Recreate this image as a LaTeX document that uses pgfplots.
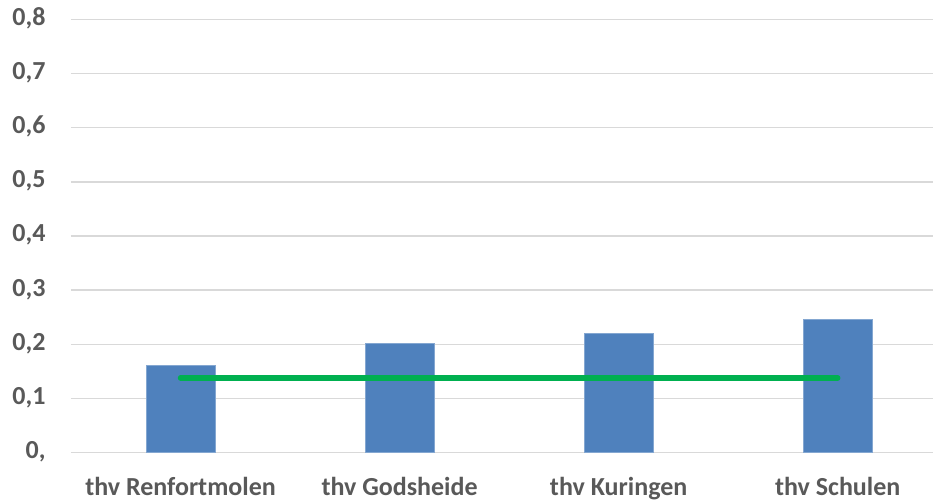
\documentclass[border=0pt]{standalone}
\usepackage{pgfplots}
\pgfplotsset{compat=1.18}
\usepackage{fontspec}
\setmainfont{Carlito}
\definecolor{barblue}{HTML}{4F81BD}
\definecolor{lgreen}{HTML}{00B050}
\definecolor{gridgray}{HTML}{D9D9D9}
\definecolor{labgray}{HTML}{595959}
\begin{document}
\begin{tikzpicture}
\begin{axis}[
  at={(0,0)}, anchor=south west,
  scale only axis,
  width=862bp, height=433.4bp,
  xmin=-0.5, xmax=3.435,
  ymin=0, ymax=0.8,
  axis line style={draw=none},
  major tick style={draw=none},
  ymajorgrids,
  grid style={gridgray, line width=1.5pt},
  ytick={0,0.1,0.2,0.3,0.4,0.5,0.6,0.7,0.8},
  yticklabels={{0,},{0,1},{0,2},{0,3},{0,4},{0,5},{0,6},{0,7},{0,8}},
  xtick={0,1,2,3},
  xticklabels={thv Renfortmolen,thv Godsheide,thv Kuringen,thv Schulen},
  ticklabel style={font=\fontsize{26bp}{30bp}\selectfont\bfseries, text=labgray, inner sep=0pt},
  yticklabel style={anchor=east, xshift=-25.3bp},
  xticklabel style={anchor=base, yshift=-42.3bp},
  typeset ticklabels with strut=false,
  clip=false,
]
\addplot[ybar, bar width=68.7bp, fill=barblue, draw=barblue!70!white, line width=0.5pt, bar shift=0pt]
  coordinates {(0,0.161) (1,0.202) (2,0.220) (3,0.246)};
\addplot[lgreen, line width=5.5pt, line cap=round, mark=none]
  coordinates {(0,0.138) (1,0.138) (2,0.138) (3,0.138)};
\end{axis}
\pgfresetboundingbox
\path (-71bp,-51.3bp) rectangle (862bp,452.7bp);
\end{tikzpicture}
\end{document}
